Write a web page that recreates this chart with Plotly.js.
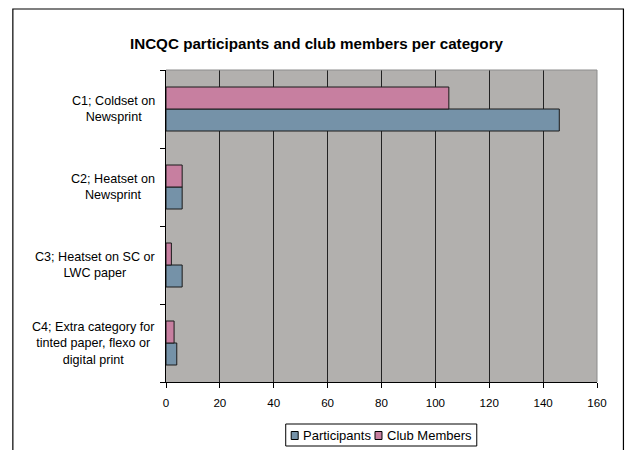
<!DOCTYPE html>
<html>
<head>
<meta charset="utf-8">
<script src="https://cdn.plot.ly/plotly-3.0.1.min.js"></script>
<style>
html,body{margin:0;padding:0;background:#fff;}
#chart{width:633px;height:450px;}
</style>
</head>
<body>
<div id="chart"></div>
<script>
// Data
var categories = ["C1", "C2", "C3", "C4"];
var categoryLabels = [
  "C1; Coldset on<br>Newsprint",
  "C2; Heatset on<br>Newsprint",
  "C3; Heatset on SC or<br>LWC paper",
  "C4; Extra category for<br>tinted paper, flexo or<br>digital print"
];
var seriesNames = ["Participants", "Club Members"];
var participants = [146, 6, 6, 4];
var clubMembers = [105, 6, 2, 3];
var xTicks = [0, 20, 40, 60, 80, 100, 120, 140, 160];

var font = "'Liberation Sans', Arial, sans-serif";
var colors = ["#7592A8", "#C77FA0"];

// plot area geometry (pixels)
var W = 633, H = 450, L = 165.5, R = 597.5, T = 70, B = 382;
function px(x) { return (x - L) / (R - L); }
function py(y) { return (B - y) / (B - T); }

var traces = [
  {
    type: "bar", orientation: "h", name: seriesNames[0],
    y: categories, x: participants,
    marker: {color: colors[0], line: {color: "#1a1a1a", width: 1}},
    hoverinfo: "x+name"
  },
  {
    type: "bar", orientation: "h", name: seriesNames[1],
    y: categories, x: clubMembers,
    marker: {color: colors[1], line: {color: "#1a1a1a", width: 1}},
    hoverinfo: "x+name"
  }
];

var annotations = categories.map(function (c, i) {
  return {
    xref: "paper", yref: "y", x: 0, y: c, xshift: -9,
    xanchor: "right", yanchor: "middle", align: "center",
    text: categoryLabels[i], showarrow: false,
    font: {family: font, size: 12.6, color: "#000"}
  };
});

// legend (drawn to match the reference's compact box)
var legendSquares = [[291, 375], [298, 382]];
var legendTextX = [301, 385];
seriesNames.forEach(function (n, i) {
  annotations.push({
    xref: "paper", yref: "paper", x: px(legendTextX[i]), y: py(435.5),
    xanchor: "left", yanchor: "middle", text: n, showarrow: false,
    font: {family: font, size: 13, color: "#000"}
  });
});

var shapes = [
  {type: "line", xref: "paper", yref: "paper", x0: 0, x1: 1, y0: 1, y1: 1,
   line: {color: "#8c8c8c", width: 1}},
  {type: "line", xref: "paper", yref: "paper", x0: 1, x1: 1, y0: 0, y1: 1,
   line: {color: "#8c8c8c", width: 1}},
  {type: "rect", xref: "paper", yref: "paper",
   x0: px(12), x1: px(624), y0: py(470), y1: py(9),
   line: {color: "#000", width: 1.2}, fillcolor: "rgba(0,0,0,0)"},
  {type: "rect", xref: "paper", yref: "paper",
   x0: px(285.5), x1: px(477), y0: py(446), y1: py(424),
   line: {color: "#000", width: 1}, fillcolor: "#fff"}
];
seriesNames.forEach(function (n, i) {
  shapes.push({type: "rect", xref: "paper", yref: "paper",
    x0: px(legendSquares[0][i]), x1: px(legendSquares[1][i]),
    y0: py(439.5), y1: py(431.5),
    line: {color: "#000", width: 1}, fillcolor: colors[i]});
});

var layout = {
  width: W, height: H,
  margin: {l: L, r: W - R, t: T, b: H - B, pad: 0},
  paper_bgcolor: "#ffffff",
  plot_bgcolor: "#B2B0AE",
  font: {family: font, size: 11, color: "#000"},
  title: {
    text: "<b>INCQC participants and club members per category</b>",
    font: {family: font, size: 15.2, color: "#000"},
    x: 0.5, xref: "container", y: 0.902, yref: "container", yanchor: "middle"
  },
  barmode: "group",
  bargap: 0.436,
  bargroupgap: 0,
  xaxis: {
    range: [0, 160], tickvals: xTicks, ticktext: xTicks.map(String),
    showgrid: true, gridcolor: "#222", gridwidth: 1,
    zeroline: false, showline: true, linecolor: "#000", linewidth: 1,
    ticks: "outside", ticklen: 5, tickcolor: "#000",
    ticklabelstandoff: 5,
    tickfont: {family: font, size: 11.6, color: "#000"},
    fixedrange: true
  },
  yaxis: {
    type: "category", categoryorder: "array",
    categoryarray: categories.slice().reverse(),
    showticklabels: false, tickson: "boundaries",
    ticks: "outside", ticklen: 5, tickcolor: "#000",
    showgrid: false, zeroline: false,
    showline: true, linecolor: "#000", linewidth: 1,
    fixedrange: true
  },
  showlegend: false,
  annotations: annotations,
  shapes: shapes
};

Plotly.newPlot("chart", traces, layout, {displayModeBar: false, staticPlot: true});
</script>
</body>
</html>
